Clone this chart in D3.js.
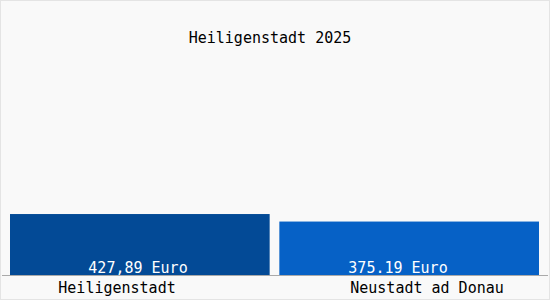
<!DOCTYPE html>
<html><head><meta charset="UTF-8">
<script src="https://cdn.jsdelivr.net/npm/d3@7"></script>
<style>
  body { margin:0; background:#fff; }
  text { font-family: "DejaVu Sans Mono", monospace; font-size:15px; }
</style>
</head>
<body>
<div id="chart"></div>
<script>
// daten
const orte = ["Heiligenstadt", "Neustadt ad Donau"];
const werte = [427.89, 375.19];
const wertLabels = ["427,89 Euro", "375.19 Euro"];
const titel = "Heiligenstadt 2025";
const farben = ["#034a96", "#0661c6"];

const W = 550, H = 300;
const svg = d3.select("#chart").append("svg")
  .attr("width", W).attr("height", H);

svg.append("rect").attr("x", 0.5).attr("y", 0.5)
  .attr("width", W - 1).attr("height", H - 1)
  .attr("fill", "#f9f9f9").attr("stroke", "#e4e4e4");

const x = d3.scaleBand().domain(orte).range([10, 539]).paddingInner(0.036).paddingOuter(0);
const y = d3.scaleLinear().domain([0, 1825]).range([275, 15]);

svg.selectAll(".bar").data(orte).enter().append("rect")
  .attr("x", d => x(d))
  .attr("y", (d, i) => y(werte[i]))
  .attr("width", x.bandwidth())
  .attr("height", (d, i) => y(0) - y(werte[i]))
  .attr("fill", (d, i) => farben[i]);

// grundlinie
svg.append("line").attr("x1", 2).attr("x2", 548)
  .attr("y1", y(0) + 0.5).attr("y2", y(0) + 0.5)
  .attr("stroke", "#aaa");

// werte in den balken
const wertX = [138, 398];
svg.selectAll(".val").data(wertLabels).enter().append("text")
  .attr("x", (d, i) => wertX[i]).attr("y", 273)
  .attr("text-anchor", "middle").attr("fill", "#fff")
  .text(d => d);

// ortsnamen
const ortX = [117, 427];
svg.selectAll(".ort").data(orte).enter().append("text")
  .attr("x", (d, i) => ortX[i]).attr("y", 293)
  .attr("text-anchor", "middle").attr("fill", "#000")
  .text(d => d);

svg.append("text").attr("x", 270).attr("y", 43)
  .attr("text-anchor", "middle").attr("fill", "#000")
  .text(titel);
</script>
</body></html>
